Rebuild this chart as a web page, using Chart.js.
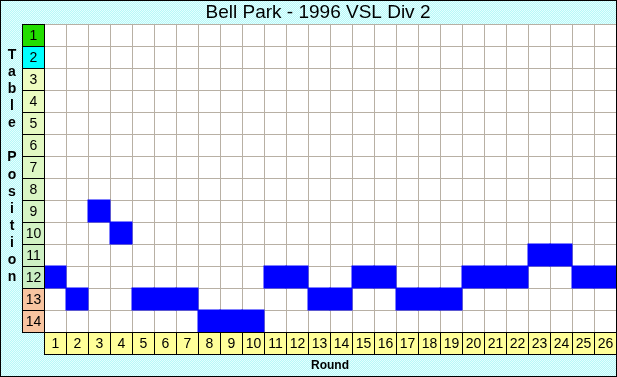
<!DOCTYPE html>
<html>
<head>
<meta charset="utf-8">
<script src="https://cdn.jsdelivr.net/npm/chart.js@4/dist/chart.umd.min.js"></script>
<style>
    html, body { margin: 0; padding: 0; background: #ffffff; }
    #wrap { width: 617px; height: 377px; position: relative; }
</style>
</head>
<body>
<div id="wrap"><canvas id="chart" width="617" height="377"></canvas></div>
<script>
    "use strict";

    const TITLE = "Bell Park - 1996 VSL Div 2";
    const X_TITLE = "Round";
    const Y_TITLE = "Table Position";
    const rounds = ["1", "2", "3", "4", "5", "6", "7", "8", "9", "10", "11", "12", "13",
        "14", "15", "16", "17", "18", "19", "20", "21", "22", "23", "24", "25", "26"];
    const positions = [12, 13, 9, 10, 13, 13, 13, 14, 14, 14, 12, 12, 13, 13, 12, 12,
        13, 13, 13, 12, 12, 12, 11, 11, 12, 12];
    const positionLabels = ["1", "2", "3", "4", "5", "6", "7", "8", "9", "10", "11", "12", "13", "14"];
    // colours of the position cells on the left: top, second, mid table, bottom two
    const positionColors = ["#22dd00", "#00ffff", "#eefcc0", "#eafcc0", "#e6fac2", "#e2f8c2",
        "#def8c4", "#daf6c4", "#d6f4c4", "#d2f2c4", "#cef0c4", "#caeec4", "#f8c4a0", "#f8c4a0"];

    const FONT = "'Liberation Sans', Arial, sans-serif";

    // dithered cyan background like the old image
    const makeBackground = (ctx) => {
        const p = document.createElement("canvas");
        p.width = 2; p.height = 2;
        const pc = p.getContext("2d");
        pc.fillStyle = "#b8f8f8";
        pc.fillRect(0, 0, 2, 2);
        pc.fillStyle = "#e4ffff";
        pc.fillRect(0, 0, 1, 1);
        pc.fillRect(1, 1, 1, 1);
        return ctx.createPattern(p, "repeat");
    };

    const framePlugin = {
        id: "frame",
        beforeDraw: (chart) => {
            const { ctx, chartArea } = chart;
            ctx.save();
            ctx.fillStyle = makeBackground(ctx);
            ctx.fillRect(0, 0, chart.width, chart.height);
            ctx.fillStyle = "#ffffff";
            ctx.fillRect(chartArea.left, chartArea.top, chartArea.right - chartArea.left, chartArea.bottom - chartArea.top);
            ctx.restore();
        },
        afterDraw: (chart) => {
            const { ctx, chartArea, scales } = chart;
            const x = scales.x, y = scales.y;
            ctx.save();
            ctx.lineWidth = 1;
            ctx.strokeStyle = "#000000";
            ctx.textAlign = "center";
            ctx.textBaseline = "middle";

            // position cells
            const cellW = x.getPixelForValue(1) - x.getPixelForValue(0);
            const lx = Math.round(chartArea.left - cellW);
            ctx.font = "14px " + FONT;
            positionLabels.forEach((lab, i) => {
                const t = Math.round(y.getPixelForValue(i));
                const b = Math.round(y.getPixelForValue(i + 1));
                ctx.fillStyle = positionColors[i];
                ctx.fillRect(lx, t, chartArea.left - lx, b - t);
                ctx.strokeRect(lx + 0.5, t + 0.5, chartArea.left - lx, b - t);
                ctx.fillStyle = "#000000";
                ctx.fillText(lab, (lx + chartArea.left) / 2 + 0.5, (t + b) / 2 + 1);
            });

            // round cells
            const rt = Math.round(chartArea.bottom);
            const rh = Math.round(y.getPixelForValue(1) - y.getPixelForValue(0));
            rounds.forEach((lab, i) => {
                const l = Math.round(x.getPixelForValue(i) - cellW / 2);
                const r = Math.round(x.getPixelForValue(i) + cellW / 2);
                ctx.fillStyle = "#ffff99";
                ctx.fillRect(l, rt, r - l, rh);
                ctx.strokeRect(l + 0.5, rt + 0.5, r - l, rh);
                ctx.fillStyle = "#000000";
                ctx.fillText(lab, (l + r) / 2 + 0.5, rt + rh / 2 + 1);
            });

            // titles
            ctx.font = "19px " + FONT;
            ctx.fillText(TITLE, 318, 13);
            ctx.font = "bold 12px " + FONT;
            ctx.fillText(X_TITLE, 330, 366);
            ctx.font = "bold 14px " + FONT;
            Y_TITLE.split("").forEach((ch, i) => {
                ctx.fillText(ch, 12, 55 + i * 17.1);
            });

            // outer border
            ctx.strokeRect(0.5, 0.5, chart.width - 1, chart.height - 1);
            ctx.restore();
        }
    };

    const ctx = document.getElementById("chart").getContext("2d");
    const chart = new Chart(ctx, {
        type: "bar",
        data: {
            labels: rounds,
            datasets: [{
                label: "Position",
                data: positions.map((p) => [p - 1, p]),
                backgroundColor: "#0000ff",
                borderWidth: 0,
                inflateAmount: 0.5,
                barPercentage: 1,
                categoryPercentage: 1,
            }]
        },
        options: {
            responsive: false,
            animation: false,
            layout: { padding: { left: 44, top: 24, right: 1, bottom: 45 } },
            plugins: {
                legend: { display: false },
                tooltip: { enabled: false },
                title: { display: false },
            },
            scales: {
                x: {
                    type: "category",
                    offset: true,
                    ticks: { display: false },
                    grid: { offset: true, color: "#b8b0a4", drawTicks: false },
                    border: { display: false },
                },
                y: {
                    type: "linear",
                    min: 0,
                    max: 14,
                    reverse: true,
                    ticks: { display: false, stepSize: 1 },
                    grid: { color: "#b8b0a4", drawTicks: false },
                    border: { display: false },
                }
            }
        },
        plugins: [framePlugin]
    });
</script>
</body>
</html>
